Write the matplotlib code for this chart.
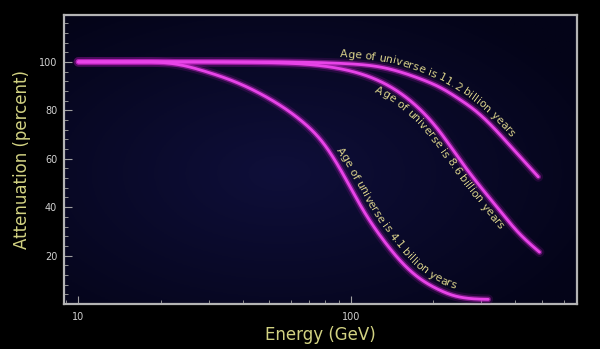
import numpy as np
import matplotlib
matplotlib.use("Agg")
import matplotlib.pyplot as plt
from matplotlib.ticker import FixedLocator, NullFormatter, AutoMinorLocator, LogLocator
from matplotlib.font_manager import FontProperties, findfont, get_font
from matplotlib.transforms import IdentityTransform

# ---------------- data ----------------
energy_112 = [10, 40, 70, 94.5, 130, 180, 212, 249, 291, 344, 404, 485]
atten_112 = [100, 100, 99.8, 99.3, 97.7, 92.9, 89.4, 84.6, 79.0, 71.0, 62.3, 52.5]

energy_86 = [10, 30, 50, 68.4, 94.5, 130, 153, 180, 210, 245, 290, 345, 410, 490]
atten_86 = [100, 100, 99.7, 99.0, 96.8, 91.5, 86.7, 80.0, 71.5, 61.0, 50.0, 39.5, 29.5, 21.4]

energy_41 = [10, 15, 20, 24, 28.7, 38, 50.4, 66.7, 78.9, 94, 111, 130, 155, 179, 206, 237, 270, 318]
atten_41 = [100, 100, 99.8, 98.6, 96.3, 91.5, 84.6, 75.0, 66.5, 53.0, 38.5, 27.0, 16.6, 10.4, 6.3, 3.5, 2.3, 1.9]

labels = ["Age of universe is 11.2 billion years",
          "Age of universe is 8.6 billion years",
          "Age of universe is 4.1 billion years"]

y_ticks = [20, 40, 60, 80, 100]
x_ticks = [10, 100]
x_tick_labels = ["10", "100"]

# ---------------- helpers ----------------
def natural_spline(x, y, xn):
    x = np.asarray(x, float); y = np.asarray(y, float)
    n = len(x); h = np.diff(x)
    A = np.zeros((n, n)); b = np.zeros(n)
    A[0, 0] = 1; A[-1, -1] = 1
    for i in range(1, n - 1):
        A[i, i - 1] = h[i - 1]; A[i, i] = 2 * (h[i - 1] + h[i]); A[i, i + 1] = h[i]
        b[i] = 3 * ((y[i + 1] - y[i]) / h[i] - (y[i] - y[i - 1]) / h[i - 1])
    c = np.linalg.solve(A, b)
    bb = (y[1:] - y[:-1]) / h - h * (2 * c[:-1] + c[1:]) / 3
    d = (c[1:] - c[:-1]) / (3 * h)
    idx = np.clip(np.searchsorted(x, xn) - 1, 0, n - 2)
    t = xn - x[idx]
    return y[idx] + bb[idx] * t + c[idx] * t**2 + d[idx] * t**3

def smooth(e, a, n=2000):
    lx = np.linspace(np.log10(e[0]), np.log10(e[-1]), n)
    return 10**lx, natural_spline(np.log10(e), a, lx)

# ---------------- figure ----------------
fig = plt.figure(figsize=(6, 3.49), dpi=100, facecolor="black")
pos = [0.107, 0.129, 0.854, 0.829]

bg = fig.add_axes(pos, zorder=0)
gx, gy = np.meshgrid(np.linspace(0, 1, 200), np.linspace(0, 1, 120))
r = np.sqrt(((gx - 0.42) / 0.9) ** 2 + ((gy - 0.45) / 0.9) ** 2)
c0 = np.array([15, 15, 58]) / 255.0
c1 = np.array([4, 4, 24]) / 255.0
t = np.clip(r / 0.75, 0, 1)[..., None]
img = c0 * (1 - t) + c1 * t
bg.imshow(img, extent=[0, 1, 0, 1], aspect="auto", origin="lower")
bg.set_axis_off()

ax = fig.add_axes(pos, zorder=1)
ax.patch.set_alpha(0)
ax.set_xscale("log")
ax.set_xlim(8.87, 670)
ax.set_ylim(0, 119.5)

for sp in ax.spines.values():
    sp.set_color("#b4b4b4")
    sp.set_linewidth(1.6)

ax.xaxis.set_major_locator(FixedLocator(x_ticks))
ax.set_xticklabels(x_tick_labels)
ax.xaxis.set_minor_locator(LogLocator(base=10, subs=np.arange(2, 10)))
ax.xaxis.set_minor_formatter(NullFormatter())
ax.set_yticks(y_ticks)
ax.yaxis.set_minor_locator(AutoMinorLocator(5))
ax.tick_params(axis="both", which="major", direction="in", length=6, width=0.8,
               color="#a0a0a0", labelcolor="#d0d0d0", labelsize=7, pad=5)
ax.tick_params(axis="both", which="minor", direction="in", length=3, width=0.7,
               color="#909090")
ax.tick_params(axis="x", which="major", pad=6)

ax.set_xlabel("Energy (GeV)", color="#d2d282", fontsize=12, labelpad=3)
ax.set_ylabel("Attenuation (percent)", color="#d2d282", fontsize=12, labelpad=6)

curves = [(energy_112, atten_112), (energy_86, atten_86), (energy_41, atten_41)]
for e, a in curves:
    xs, ys = smooth(e, a)
    ax.plot(xs, ys, color="#c018c0", lw=7, alpha=0.15, solid_capstyle="round", zorder=3)
    ax.plot(xs, ys, color="#d028d0", lw=4, alpha=0.45, solid_capstyle="round", zorder=3)
    ax.plot(xs, ys, color="#e844e8", lw=2.0, solid_capstyle="round", zorder=4)

# ---------------- curved labels ----------------
fig.canvas.draw()
fs = 7.8
prop = FontProperties(family="DejaVu Sans", size=fs)
font = get_font(findfont(prop))
font.set_size(fs, fig.dpi)
em = fs * fig.dpi / 72.0

def advance(ch):
    g = font.load_char(ord(ch))
    return g.linearHoriAdvance / 65536.0

def curved_label(e, a, text, start_e, offset, color="#d8d08a"):
    xs, ys = smooth(e, a, 4000)
    pts = ax.transData.transform(np.column_stack([xs, ys]))
    tx = np.gradient(pts[:, 0]); ty = np.gradient(pts[:, 1])
    nrm = np.hypot(tx, ty); tx /= nrm; ty /= nrm
    shift = offset - 0.27 * em
    base = pts + shift * np.column_stack([-ty, tx])
    dd = np.diff(base, axis=0)
    s = np.concatenate([[0], np.cumsum(np.hypot(dd[:, 0], dd[:, 1]))])
    ang = np.arctan2(ty, tx)
    cur = np.interp(np.log10(start_e), np.log10(xs), s)
    for ch in text:
        w = advance(ch)
        if ch != " ":
            px = np.interp(cur, s, base[:, 0]); py = np.interp(cur, s, base[:, 1])
            th = np.interp(cur + w / 2, s, ang)
            fig.text(px, py, ch, transform=IdentityTransform(),
                     fontproperties=prop, color=color, rotation=np.degrees(th),
                     rotation_mode="anchor", ha="left", va="baseline", zorder=6)
        cur += w

curved_label(energy_112, atten_112, labels[0], 90.9, 9)
curved_label(energy_86, atten_86, labels[1], 127, -9.5)
curved_label(energy_41, atten_41, labels[2], 84, 9.5)

fig.savefig("out.png", dpi=100, facecolor="black")
